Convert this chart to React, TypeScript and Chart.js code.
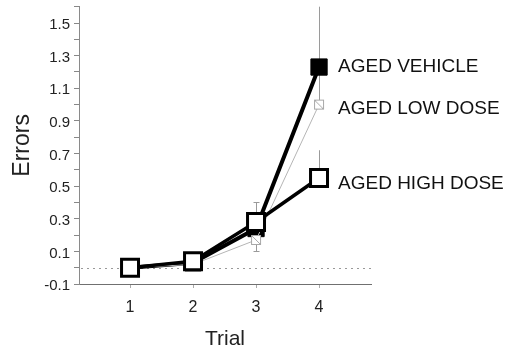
import React, { useEffect, useRef } from "react";
import { Chart, registerables } from "chart.js";

Chart.register(...registerables);

const trials = [1, 2, 3, 4];
const vehicle = [0.0, 0.03, 0.24, 1.23];
const lowDose = [0.0, 0.02, 0.17, 1.0];
const highDose = [0.0, 0.04, 0.28, 0.55];
// error bar ends (null = not shown)
const vehicleErrTop = [null, null, null, 1.6];
const vehicleErrBottom = [null, null, null, null];
const lowDoseErrTop = [null, null, null, 1.2];
const lowDoseErrBottom = [null, null, 0.1, null];
const highDoseErrTop = [null, null, 0.4, 0.72];
const highDoseErrBottom = [null, null, null, null];
const seriesLabels = ["AGED HIGH DOSE", "AGED LOW DOSE", "AGED VEHICLE"];
const yTickMin = -0.1;
const yTickMax = 1.6;

const FONT = "'Liberation Sans', Arial, sans-serif";

function makeLowDoseMarker(): HTMLCanvasElement {
  const c = document.createElement("canvas");
  c.width = 12;
  c.height = 12;
  const g = c.getContext("2d")!;
  g.fillStyle = "#fff";
  g.fillRect(1, 1, 10, 10);
  g.strokeStyle = "#a8a8a8";
  g.lineWidth = 1;
  g.strokeRect(1.5, 1.5, 9, 9);
  g.beginPath();
  g.moveTo(1.5, 1.5);
  g.lineTo(10.5, 10.5);
  g.stroke();
  return c;
}

const errorBarPlugin = {
  id: "errorBars",
  beforeDatasetsDraw(chart: any) {
    const { ctx, chartArea, scales } = chart;
    const xs = scales.x;
    const ys = scales.y;
    ctx.save();
    ctx.strokeStyle = "#999";
    ctx.lineWidth = 1;
    ctx.setLineDash([2, 4]);
    const y0 = Math.round(ys.getPixelForValue(0)) + 0.5;
    ctx.beginPath();
    ctx.moveTo(chartArea.left + 2, y0);
    ctx.lineTo(chartArea.right, y0);
    ctx.stroke();
    ctx.setLineDash([]);
    const sets = [
      [vehicle, vehicleErrTop, vehicleErrBottom],
      [lowDose, lowDoseErrTop, lowDoseErrBottom],
      [highDose, highDoseErrTop, highDoseErrBottom],
    ];
    ctx.strokeStyle = "#9a9a9a";
    for (const [vals, tops, bots] of sets as any) {
      trials.forEach((t, i) => {
        const x = Math.round(xs.getPixelForValue(t)) + 0.5;
        const yv = ys.getPixelForValue(vals[i]);
        for (const end of [tops[i], bots[i]]) {
          if (end === null || end === undefined) continue;
          const ye = ys.getPixelForValue(end);
          ctx.beginPath();
          ctx.moveTo(x, yv);
          ctx.lineTo(x, ye);
          if (t !== 4) {
            ctx.moveTo(x - 3, Math.round(ye) + 0.5);
            ctx.lineTo(x + 3, Math.round(ye) + 0.5);
          }
          ctx.stroke();
        }
      });
    }
    ctx.restore();
  },
};

const seriesLabelPlugin = {
  id: "seriesLabels",
  afterDatasetsDraw(chart: any) {
    const { ctx, scales } = chart;
    const xs = scales.x;
    const ys = scales.y;
    const last = trials.length - 1;
    const x = xs.getPixelForValue(trials[last]) + 19;
    const dy = [6, 4, 0];
    ctx.save();
    ctx.font = `19px ${FONT}`;
    ctx.fillStyle = "#111";
    ctx.textAlign = "left";
    ctx.textBaseline = "middle";
    chart.data.datasets.forEach((ds: any, i: number) => {
      const y = ys.getPixelForValue(ds.data[last].y) + dy[i];
      ctx.fillText(seriesLabels[i], x, y);
    });
    ctx.restore();
  },
};

const noPad = () => ({ left: 0, top: 0, right: 0, bottom: 0 });

export default function App() {
  const ref = useRef<HTMLCanvasElement>(null);
  useEffect(() => {
    document.body.style.margin = "0";
    const lowMarker = makeLowDoseMarker();
    const toXY = (arr: number[]) => arr.map((v, i) => ({ x: trials[i], y: v }));
    const chart = new Chart(ref.current!, {
      type: "line",
      data: {
        datasets: [
          {
            label: seriesLabels[0],
            data: toXY(highDose),
            borderColor: "#000",
            borderWidth: 3.5,
            pointStyle: "rect",
            pointRadius: 12,
            pointBorderWidth: 3,
            pointBackgroundColor: "#fff",
            pointBorderColor: "#000",
            clip: false,
          },
          {
            label: seriesLabels[1],
            data: toXY(lowDose),
            borderColor: "#b5b5b5",
            borderWidth: 1,
            pointStyle: lowMarker as any,
            pointRadius: 6,
            clip: false,
          },
          {
            label: seriesLabels[2],
            data: toXY(vehicle),
            borderColor: "#000",
            borderWidth: 4,
            pointStyle: "rect",
            pointRadius: 11.5,
            pointBorderWidth: 1,
            pointBackgroundColor: "#000",
            pointBorderColor: "#000",
            clip: false,
          },
        ],
      },
      options: {
        animation: false,
        responsive: true,
        maintainAspectRatio: false,
        events: [],
        layout: { autoPadding: false, padding: { top: 6.7, right: 137, left: 0, bottom: 0 } },
        plugins: { legend: { display: false }, tooltip: { enabled: false } },
        scales: {
          x: {
            type: "linear",
            min: 0.19,
            max: 4.825,
            afterBuildTicks: (s: any) => {
              s.ticks = trials.map((v) => ({ value: v }));
            },
            afterFit: (s: any) => {
              s.height = 67;
              s.paddingLeft = 0;
              s.paddingRight = 0;
              s.getPadding = noPad;
            },
            grid: { drawOnChartArea: false, tickLength: 4, tickColor: "#aaa" },
            border: { color: "#707070", width: 1 },
            ticks: {
              font: { family: FONT, size: 16 },
              color: "#222",
              padding: 10,
              callback: (v: any) => String(v),
            },
            title: {
              display: true,
              text: "Trial",
              font: { family: FONT, size: 21, lineHeight: 1 },
              color: "#222",
              padding: { top: 0, bottom: 1 },
            },
          },
          y: {
            min: yTickMin,
            max: yTickMax,
            afterFit: (s: any) => {
              s.width = 79;
              s.paddingTop = 0;
              s.paddingBottom = 0;
              s.getPadding = noPad;
            },
            grid: {
              drawOnChartArea: false,
              tickLength: 5,
              tickColor: "#888",
            },
            border: { color: "#8a8a8a", width: 1 },
            ticks: {
              stepSize: 0.1,
              autoSkip: false,
              font: { family: FONT, size: 15 },
              color: "#222",
              padding: 4,
              labelOffset: 2,
              callback: (v: any) => {
                const n = Math.round(Number(v) * 10);
                if (n > 15) return "";
                return n % 2 !== 0 ? (n / 10).toFixed(1) : "";
              },
            },
            title: {
              display: true,
              text: "Errors",
              font: { family: FONT, size: 23 },
              color: "#222",
              padding: { top: 9, bottom: 0 },
            },
          },
        },
      },
      plugins: [errorBarPlugin, seriesLabelPlugin],
    });
    return () => chart.destroy();
  }, []);
  return (
    <div style={{ position: "relative", width: 508, height: 351 }}>
      <canvas ref={ref} />
    </div>
  );
}
